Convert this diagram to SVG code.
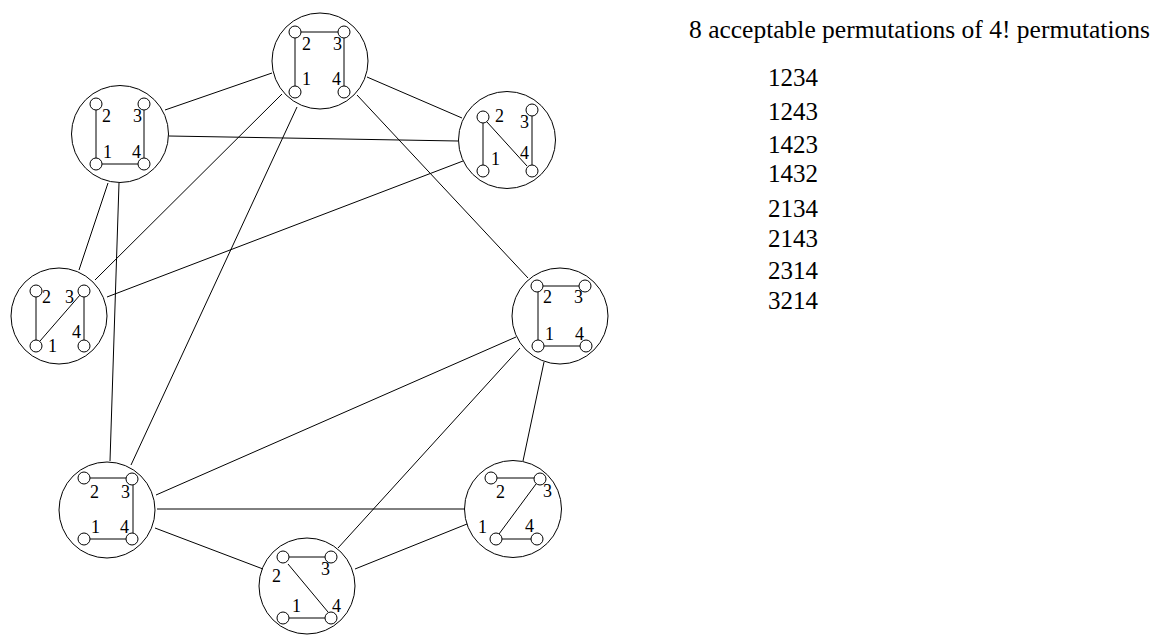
<svg xmlns="http://www.w3.org/2000/svg" width="1155" height="635" viewBox="0 0 1155 635">
  <style>
    .ring { fill: none; stroke: #000; stroke-width: 1; }
    .dot { fill: #fff; stroke: #000; stroke-width: 1; }
    .bar { stroke: #000; stroke-width: 1; fill: none; }
    .edge { stroke: #000; stroke-width: 1; fill: none; }
    .lbl { font-family: "Liberation Serif", "Times New Roman", serif; font-size: 18px; fill: #000; }
    .title { font-family: "Liberation Serif", "Times New Roman", serif; font-size: 25.5px; fill: #000; }
    .perm { font-family: "Liberation Serif", "Times New Roman", serif; font-size: 25px; fill: #000; }
  </style>
  <rect width="1155" height="635" fill="#fff"/>

  <!-- connectors between arrangement states -->
  <g id="connectors">
    <line class="edge" x1="165" y1="110" x2="272" y2="73"/>
    <line class="edge" x1="367" y1="77" x2="462" y2="118"/>
    <line class="edge" x1="282" y1="94" x2="95" y2="280"/>
    <line class="edge" x1="297" y1="107" x2="131" y2="465"/>
    <line class="edge" x1="357" y1="95" x2="528" y2="278"/>
    <line class="edge" x1="169" y1="136" x2="458" y2="141"/>
    <line class="edge" x1="108" y1="183" x2="79" y2="270"/>
    <line class="edge" x1="119" y1="183" x2="110" y2="461"/>
    <line class="edge" x1="463" y1="161" x2="107" y2="297"/>
    <line class="edge" x1="516" y1="337" x2="156" y2="495"/>
    <line class="edge" x1="520" y1="348" x2="338" y2="548"/>
    <line class="edge" x1="544" y1="362" x2="523" y2="461"/>
    <line class="edge" x1="157" y1="509" x2="465" y2="509"/>
    <line class="edge" x1="155" y1="528" x2="263" y2="569"/>
    <line class="edge" x1="467" y1="524" x2="355" y2="569"/>
  </g>

  <!-- top: 2-3, 2-1, 3-4 -->
  <g id="node-top">
    <circle class="ring" cx="320" cy="61" r="48"/>
    <line class="bar" x1="301" y1="32" x2="338" y2="32"/>
    <line class="bar" x1="295" y1="38" x2="295" y2="86"/>
    <line class="bar" x1="344" y1="38" x2="344" y2="86"/>
    <circle class="dot" cx="295" cy="32" r="6"/>
    <circle class="dot" cx="344" cy="32" r="6"/>
    <circle class="dot" cx="295" cy="92" r="6"/>
    <circle class="dot" cx="344" cy="92" r="6"/>
    <text class="lbl" x="302" y="50">2</text>
    <text class="lbl" x="333" y="50">3</text>
    <text class="lbl" x="302" y="85">1</text>
    <text class="lbl" x="332" y="85">4</text>
  </g>

  <!-- upper left: 2-1, 3-4, 1-4 -->
  <g id="node-upper-left">
    <circle class="ring" cx="120" cy="134" r="48.5"/>
    <line class="bar" x1="96" y1="110" x2="96" y2="158"/>
    <line class="bar" x1="144" y1="110" x2="144" y2="158"/>
    <line class="bar" x1="102" y1="164" x2="138" y2="164"/>
    <circle class="dot" cx="96" cy="104" r="6"/>
    <circle class="dot" cx="144" cy="104" r="6"/>
    <circle class="dot" cx="96" cy="164" r="6"/>
    <circle class="dot" cx="144" cy="164" r="6"/>
    <text class="lbl" x="102" y="122">2</text>
    <text class="lbl" x="133" y="122">3</text>
    <text class="lbl" x="103" y="158">1</text>
    <text class="lbl" x="132" y="158">4</text>
  </g>

  <!-- upper right: 2-1, 3-4, 2-4 -->
  <g id="node-upper-right">
    <circle class="ring" cx="507" cy="140" r="48.5"/>
    <line class="bar" x1="483" y1="123" x2="483" y2="165"/>
    <line class="bar" x1="532" y1="116" x2="532" y2="165"/>
    <line class="bar" x1="487" y1="122" x2="527" y2="166"/>
    <circle class="dot" cx="483" cy="117" r="6"/>
    <circle class="dot" cx="532" cy="110" r="6"/>
    <circle class="dot" cx="483" cy="171" r="6"/>
    <circle class="dot" cx="532" cy="171" r="6"/>
    <text class="lbl" x="495" y="122">2</text>
    <text class="lbl" x="520" y="128">3</text>
    <text class="lbl" x="491" y="165">1</text>
    <text class="lbl" x="520" y="159">4</text>
  </g>

  <!-- left: 2-1, 3-4, 1-3 -->
  <g id="node-left">
    <circle class="ring" cx="59" cy="316" r="48"/>
    <line class="bar" x1="36" y1="297" x2="36" y2="340"/>
    <line class="bar" x1="84" y1="297" x2="84" y2="340"/>
    <line class="bar" x1="40" y1="341" x2="80" y2="295"/>
    <circle class="dot" cx="36" cy="291" r="6"/>
    <circle class="dot" cx="84" cy="291" r="6"/>
    <circle class="dot" cx="36" cy="346" r="6"/>
    <circle class="dot" cx="84" cy="346" r="6"/>
    <text class="lbl" x="42" y="303">2</text>
    <text class="lbl" x="65" y="303">3</text>
    <text class="lbl" x="48" y="352">1</text>
    <text class="lbl" x="72" y="338">4</text>
  </g>

  <!-- right: 2-3, 2-1, 1-4 -->
  <g id="node-right">
    <circle class="ring" cx="560" cy="316" r="48"/>
    <line class="bar" x1="543" y1="286" x2="579" y2="286"/>
    <line class="bar" x1="538" y1="292" x2="538" y2="340"/>
    <line class="bar" x1="544" y1="346" x2="580" y2="346"/>
    <circle class="dot" cx="537" cy="286" r="6"/>
    <circle class="dot" cx="585" cy="286" r="6"/>
    <circle class="dot" cx="538" cy="346" r="6"/>
    <circle class="dot" cx="586" cy="346" r="6"/>
    <text class="lbl" x="543" y="303">2</text>
    <text class="lbl" x="574" y="303">3</text>
    <text class="lbl" x="545" y="340">1</text>
    <text class="lbl" x="575" y="340">4</text>
  </g>

  <!-- lower left: 2-3, 3-4, 1-4 -->
  <g id="node-lower-left">
    <circle class="ring" cx="107" cy="510" r="48"/>
    <line class="bar" x1="90" y1="478" x2="126" y2="478"/>
    <line class="bar" x1="133" y1="485" x2="133" y2="533"/>
    <line class="bar" x1="90" y1="539" x2="126" y2="539"/>
    <circle class="dot" cx="84" cy="478" r="6"/>
    <circle class="dot" cx="132" cy="479" r="6"/>
    <circle class="dot" cx="84" cy="539" r="6"/>
    <circle class="dot" cx="132" cy="539" r="6"/>
    <text class="lbl" x="90" y="498">2</text>
    <text class="lbl" x="121" y="498">3</text>
    <text class="lbl" x="91" y="533">1</text>
    <text class="lbl" x="120" y="533">4</text>
  </g>

  <!-- lower right: 2-3, 1-4, 1-3 -->
  <g id="node-lower-right">
    <circle class="ring" cx="513" cy="509" r="48.5"/>
    <line class="bar" x1="497" y1="478" x2="534" y2="478"/>
    <line class="bar" x1="502" y1="539" x2="531" y2="539"/>
    <line class="bar" x1="499" y1="534" x2="536" y2="484"/>
    <circle class="dot" cx="491" cy="478" r="6"/>
    <circle class="dot" cx="540" cy="479" r="6"/>
    <circle class="dot" cx="496" cy="539" r="6"/>
    <circle class="dot" cx="537" cy="539" r="6"/>
    <text class="lbl" x="496" y="498">2</text>
    <text class="lbl" x="543" y="497">3</text>
    <text class="lbl" x="478" y="533">1</text>
    <text class="lbl" x="525" y="532">4</text>
  </g>

  <!-- bottom: 2-3, 1-4, 2-4 -->
  <g id="node-bottom">
    <circle class="ring" cx="307" cy="586" r="48"/>
    <line class="bar" x1="289" y1="557" x2="325" y2="557"/>
    <line class="bar" x1="289" y1="618" x2="325" y2="618"/>
    <line class="bar" x1="288" y1="564" x2="328" y2="612"/>
    <circle class="dot" cx="283" cy="557" r="6"/>
    <circle class="dot" cx="331" cy="557" r="6"/>
    <circle class="dot" cx="283" cy="618" r="6"/>
    <circle class="dot" cx="331" cy="618" r="6"/>
    <text class="lbl" x="272" y="582">2</text>
    <text class="lbl" x="321" y="575">3</text>
    <text class="lbl" x="292" y="612">1</text>
    <text class="lbl" x="332" y="612">4</text>
  </g>

  <!-- list of permutations -->
  <g id="permutation-list">
    <text class="title" x="689" y="38">8 acceptable permutations of 4! permutations</text>
    <text class="perm" x="768" y="86">1234</text>
    <text class="perm" x="768" y="120">1243</text>
    <text class="perm" x="768" y="153">1423</text>
    <text class="perm" x="768" y="182">1432</text>
    <text class="perm" x="768" y="217">2134</text>
    <text class="perm" x="768" y="247">2143</text>
    <text class="perm" x="768" y="279">2314</text>
    <text class="perm" x="768" y="309">3214</text>
  </g>
</svg>
